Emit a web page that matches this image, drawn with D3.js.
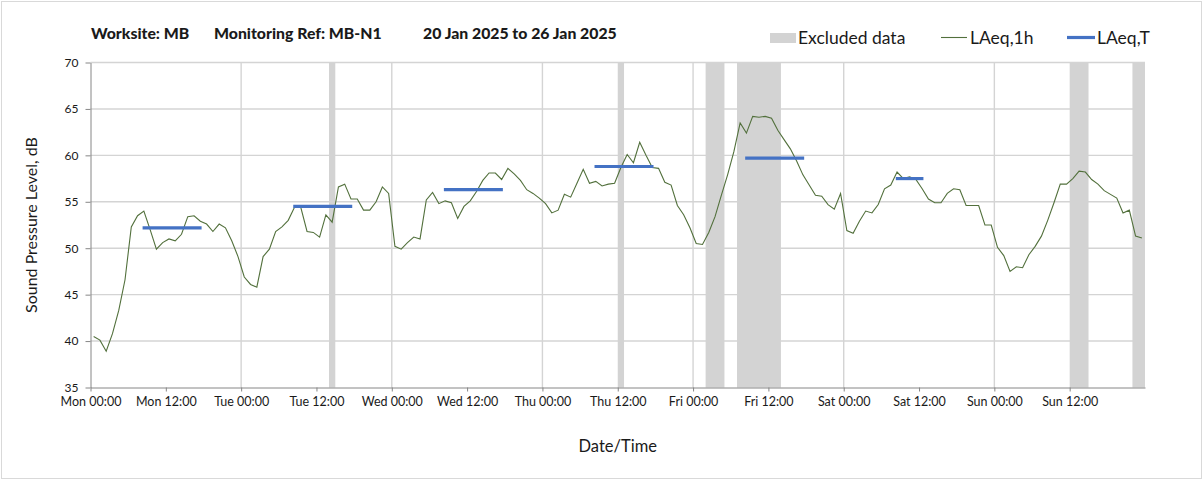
<!DOCTYPE html>
<html>
<head>
<meta charset="utf-8">
<script src="https://cdn.jsdelivr.net/npm/d3@7"></script>
<style>
  body { margin: 0; background: #fff; }
  text { font-family: Lato, "Open Sans", sans-serif; fill: #1a1a1a; }
</style>
</head>
<body>
<svg id="chart" width="1203" height="480"></svg>
<script>
// hourly LAeq,1h values, Mon 00:00 .. Sun 23:00 (168 hours)
const laeq1h = [
  40.5, 40.1, 38.9, 40.8, 43.3, 46.6, 52.3, 53.5, 54.0, 52.0, 49.9, 50.6,
  51.0, 50.8, 51.5, 53.4, 53.5, 52.9, 52.6, 51.8, 52.6, 52.2, 50.8, 49.1,
  46.9, 46.1, 45.8, 49.1, 49.9, 51.8, 52.3, 53.0, 54.4, 54.4, 51.8, 51.7,
  51.2, 53.6, 52.8, 56.6, 56.9, 55.3, 55.3, 54.1, 54.1, 55.0, 56.6, 55.9,
  50.2, 49.9, 50.6, 51.2, 51.0, 55.2, 56.0, 54.8, 55.1, 54.9, 53.2, 54.5,
  55.1, 56.1, 57.3, 58.1, 58.1, 57.4, 58.6, 58.0, 57.3, 56.3, 55.9, 55.4,
  54.8, 53.8, 54.1, 55.8, 55.5, 57.0, 58.5, 57.0, 57.2, 56.7, 56.9, 57.0,
  58.7, 60.1, 59.2, 61.4, 60.0, 58.7, 58.6, 57.1, 56.8, 54.6, 53.6, 52.2,
  50.5, 50.4, 51.7, 53.4, 55.7, 57.9, 60.4, 63.5, 62.4, 64.2, 64.1, 64.2,
  64.0, 62.7, 61.7, 60.7, 59.4, 57.9, 56.8, 55.7, 55.6, 54.7, 54.2, 55.9,
  51.9, 51.6, 52.9, 54.0, 53.8, 54.7, 56.4, 56.8, 58.2, 57.5, 57.7, 57.4,
  56.4, 55.3, 54.9, 54.9, 55.9, 56.4, 56.3, 54.6, 54.6, 54.6, 52.5, 52.5,
  50.1, 49.2, 47.5, 48.0, 47.9, 49.3, 50.2, 51.3, 53.0, 54.9, 56.9, 56.9,
  57.5, 58.3, 58.2, 57.4, 56.9, 56.2, 55.8, 55.4, 53.8, 54.1, 51.3, 51.1
];

// excluded periods (hours from Mon 00:00)
const excludedStart = [38, 84, 98, 103, 156, 166];
const excludedEnd   = [39, 85, 101, 110, 159, 168];

// LAeq,T periods
const periodStart = [8.3, 32.3, 56.3, 80.3, 104.3, 128.3];
const periodEnd   = [17.7, 41.7, 65.7, 89.7, 113.7, 132.7];
const periodValue = [52.2, 54.5, 56.3, 58.8, 59.7, 57.5];

const tickLabels = [
  "Mon 00:00", "Mon 12:00", "Tue 00:00", "Tue 12:00", "Wed 00:00", "Wed 12:00",
  "Thu 00:00", "Thu 12:00", "Fri 00:00", "Fri 12:00", "Sat 00:00", "Sat 12:00",
  "Sun 00:00", "Sun 12:00"
];
const yTicks = [35, 40, 45, 50, 55, 60, 65, 70];

let width = 1203,
    height = 480,
    margins = {top: 62.5, bottom: 92.5, left: 90.5, right: 58};

const svg = d3.select("#chart");

// outer frame
svg.append("rect")
  .attr("x", 1.5).attr("y", 1.5)
  .attr("width", width - 3).attr("height", height - 3)
  .attr("fill", "#fff").attr("stroke", "#d9d9d9");

let x = d3.scaleLinear()
  .domain([0, 168])
  .range([margins.left, width - margins.right]);
let y = d3.scaleLinear()
  .domain([35, 70])
  .range([height - margins.bottom, margins.top]);

// gridlines
let grid = svg.append("g");
grid.selectAll("line.h")
  .data(yTicks.slice(1)).enter()
  .append("line")
  .attr("x1", x(0)).attr("x2", x(168))
  .attr("y1", d => y(d)).attr("y2", d => y(d))
  .attr("stroke", "#d4d4d4").attr("stroke-width", 1.4);
grid.selectAll("line.v")
  .data(d3.range(24, 168, 24)).enter()
  .append("line")
  .attr("x1", d => x(d)).attr("x2", d => x(d))
  .attr("y1", y(35)).attr("y2", y(70))
  .attr("stroke", "#d4d4d4").attr("stroke-width", 1.4);

// excluded bands
svg.append("g").selectAll("rect")
  .data(excludedStart.map((s, i) => [s, excludedEnd[i]])).enter()
  .append("rect")
  .attr("x", d => x(d[0]))
  .attr("width", d => x(d[1]) - x(d[0]))
  .attr("y", y(70))
  .attr("height", y(35) - y(70))
  .attr("fill", "#d3d3d3");

// axes
let xAxis = d3.axisBottom(x)
  .tickValues(d3.range(0, 168, 12))
  .tickFormat((d, i) => tickLabels[i])
  .tickSizeInner(4).tickSizeOuter(0).tickPadding(6);
let yAxis = d3.axisLeft(y)
  .tickValues(yTicks)
  .tickSizeInner(5).tickSizeOuter(0).tickPadding(7);

let gx = svg.append("g")
  .attr("transform", `translate(0,${y(35)})`)
  .call(xAxis);
let gy = svg.append("g")
  .attr("transform", `translate(${x(0)},0)`)
  .call(yAxis);

[gx, gy].forEach(g => {
  g.select(".domain").attr("stroke", "#868686");
  g.selectAll(".tick line").attr("stroke", "#868686");
  g.selectAll("text").attr("fill", "#1a1a1a")
    .style("font-family", "Lato, 'Open Sans', sans-serif");
});
gx.selectAll("text").style("font-size", "12.5px");
gy.selectAll("text").style("font-size", "12px");

// LAeq,1h line
let line = d3.line()
  .x((d, i) => x(i + 0.5))
  .y(d => y(d));
svg.append("path")
  .datum(laeq1h)
  .attr("d", line)
  .attr("fill", "none")
  .attr("stroke", "#52703c")
  .attr("stroke-width", 1.1);

// LAeq,T segments
svg.append("g").selectAll("line")
  .data(periodValue.map((v, i) => ({s: periodStart[i], e: periodEnd[i], v: v}))).enter()
  .append("line")
  .attr("x1", d => x(d.s)).attr("x2", d => x(d.e))
  .attr("y1", d => y(d.v)).attr("y2", d => y(d.v))
  .attr("stroke", "#4472c4")
  .attr("stroke-width", 3.2);

// title
let title = svg.append("g").style("font-weight", "900").style("font-size", "15.8px");
title.append("text").attr("x", 91).attr("y", 39).text("Worksite: MB");
title.append("text").attr("x", 214).attr("y", 39).text("Monitoring Ref: MB-N1");
title.append("text").attr("x", 423).attr("y", 39).text("20 Jan 2025 to 26 Jan 2025");

// legend
let legend = svg.append("g").style("font-size", "17.5px");
legend.append("rect").attr("x", 770).attr("y", 33).attr("width", 26).attr("height", 10)
  .attr("fill", "#d3d3d3");
legend.append("text").attr("x", 798).attr("y", 44).text("Excluded data");
legend.append("line").attr("x1", 941).attr("x2", 967).attr("y1", 37.5).attr("y2", 37.5)
  .attr("stroke", "#52703c").attr("stroke-width", 1.1);
legend.append("text").attr("x", 970).attr("y", 44).text("LAeq,1h");
legend.append("line").attr("x1", 1067).attr("x2", 1095).attr("y1", 37.5).attr("y2", 37.5)
  .attr("stroke", "#4472c4").attr("stroke-width", 3.2);
legend.append("text").attr("x", 1097).attr("y", 44).text("LAeq,T");

// axis titles
svg.append("text")
  .attr("transform", `translate(37,${(y(35) + y(70)) / 2}) rotate(-90)`)
  .attr("text-anchor", "middle")
  .style("font-size", "16px")
  .text("Sound Pressure Level, dB");
svg.append("text")
  .attr("x", (x(0) + x(168)) / 2).attr("y", 452)
  .attr("text-anchor", "middle")
  .style("font-size", "16.5px")
  .text("Date/Time");
</script>
</body>
</html>
